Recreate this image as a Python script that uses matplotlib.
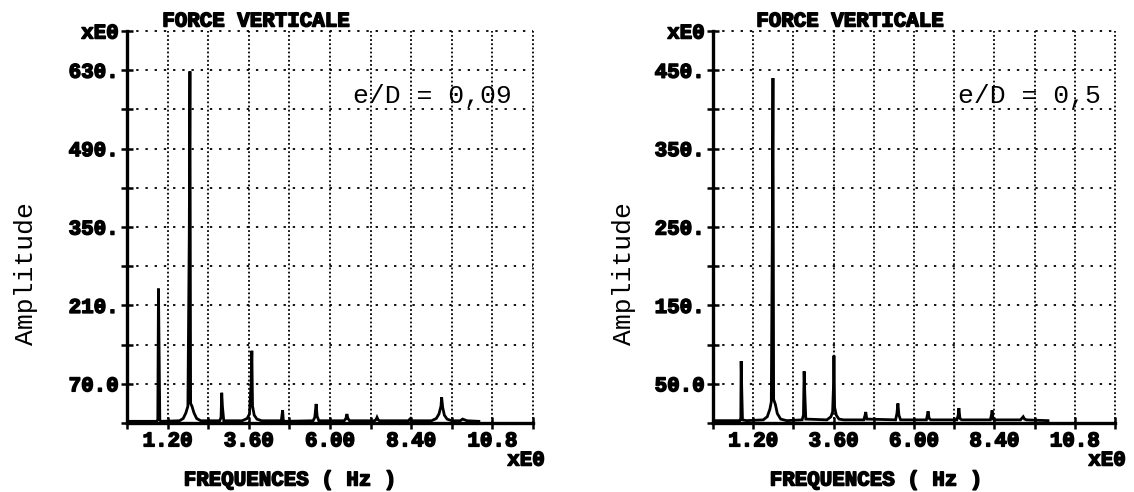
import matplotlib
matplotlib.use("Agg")
import matplotlib.pyplot as plt
import matplotlib.patheffects as pe

# ---------------- data ----------------
freq_ticks = [0.0, 1.2, 2.4, 3.6, 4.8, 6.0, 7.2, 8.4, 9.6, 10.8, 12.0]
freq_labels = ["", "1.20", "", "3.60", "", "6.00", "", "8.40", "", "10.8", ""]

left_yticks = [0, 70, 140, 210, 280, 350, 420, 490, 560, 630, 700]
left_ylabels = ["", "70.0", "", "210.", "", "350.", "", "490.", "", "630.", "xE0"]
right_yticks = [0, 50, 100, 150, 200, 250, 300, 350, 400, 450, 500]
right_ylabels = ["", "50.0", "", "150.", "", "250.", "", "350.", "", "450.", "xE0"]

left_freq = [0.00, 0.88, 0.91, 0.93, 0.95, 0.97, 1.00, 1.55, 1.66, 1.74, 1.80,
             1.84, 1.86, 1.88, 1.92, 1.98, 2.06, 2.18, 2.40, 2.74, 2.78, 2.80,
             2.82, 2.86, 3.40, 3.55, 3.62, 3.67, 3.69, 3.71, 3.76, 3.84, 3.98,
             4.56, 4.60, 4.62, 4.65, 5.50, 5.55, 5.59, 5.62, 5.67, 6.42, 6.47,
             6.50, 6.53, 6.58, 7.32, 7.37, 7.39, 7.42, 7.46, 8.32, 8.36, 8.38,
             8.41, 9.00, 9.14, 9.22, 9.28, 9.30, 9.33, 9.38, 9.46, 9.60, 9.85,
             9.92, 10.05, 10.40]
left_amp = [3, 3, 6, 240, 123, 5, 3, 4, 8, 18, 30,
            333, 628, 35, 30, 18, 8, 4, 4, 4, 10, 54,
            30, 4, 4, 8, 16, 72, 129, 30, 14, 7, 4,
            4, 23, 4, 3, 4, 10, 34, 12, 4, 4, 8,
            16, 8, 4, 4, 7, 10, 6, 4, 4, 7, 8,
            4, 4, 8, 16, 30, 46, 28, 14, 7, 4, 4,
            7, 4, 3]

right_freq = [0.00, 0.80, 0.83, 0.84, 0.86, 0.88, 1.00, 1.50, 1.62, 1.70, 1.74,
              1.77, 1.79, 1.81, 1.86, 1.92, 2.02, 2.20, 2.66, 2.70, 2.72, 2.74,
              2.77, 3.40, 3.52, 3.57, 3.60, 3.61, 3.63, 3.68, 3.76, 3.90, 4.50,
              4.54, 4.56, 4.59, 5.45, 5.49, 5.52, 5.55, 5.60, 6.37, 6.40, 6.42,
              6.45, 6.50, 7.28, 7.32, 7.34, 7.37, 7.42, 8.28, 8.32, 8.33, 8.36,
              8.40, 9.18, 9.24, 9.26, 9.30, 9.36, 10.00]
right_amp = [3, 3, 6, 79, 39, 4, 3, 4, 8, 18, 27,
             240, 440, 30, 24, 12, 5, 3, 4, 10, 66, 38,
             5, 4, 8, 14, 51, 86, 20, 10, 5, 4, 4,
             10, 14, 5, 4, 12, 25, 10, 4, 4, 10, 15,
             6, 4, 4, 10, 19, 6, 4, 4, 12, 16, 5,
             4, 4, 7, 8, 5, 4, 3]

# ---------------- styling ----------------
W, H = 1134, 492
fig = plt.figure(figsize=(W / 100, H / 100), dpi=100)
fig.patch.set_facecolor("white")

HEAVY = [pe.withStroke(linewidth=1.1, foreground="black")]
TICK_FONT = dict(family="Liberation Mono", weight="bold", size=15)
TEXT_FONT = dict(family="Liberation Mono", size=19)


def fx(px):
    return px / W


def fy(py):
    return 1 - py / H


def make_panel(rect, freq, amp, yticks, ylabels, ymax, note, note_x,
               title_x, xlabel_x, ylab_x, xe_x):
    ax = fig.add_axes(rect)
    ax.plot(freq, amp, color="black", lw=2.0, solid_joinstyle="miter")
    ax.set_xlim(0, 12.0)
    ax.set_ylim(0, ymax)
    ax.set_xticks(freq_ticks)
    ax.set_xticklabels(freq_labels, fontdict=TICK_FONT)
    ax.set_yticks(yticks)
    ax.set_yticklabels(ylabels, fontdict=TICK_FONT)
    for lab in ax.get_xticklabels() + ax.get_yticklabels():
        lab.set_path_effects(HEAVY)
    for s in ("top", "right"):
        ax.spines[s].set_visible(False)
    for s in ("left", "bottom"):
        ax.spines[s].set_linewidth(2.4)
    ax.tick_params(axis="both", direction="inout", length=8, width=1.8,
                   color="black")
    ax.tick_params(axis="x", pad=2)
    ax.tick_params(axis="y", pad=2)
    ax.xaxis.grid(True, color="black", lw=1.3, linestyle=(0, (1.0, 1.3)))
    ax.yaxis.grid(True, color="black", lw=1.3, linestyle=(0, (1.3, 3.8)))
    ax.set_axisbelow(False)
    for gl in ax.get_xgridlines() + ax.get_ygridlines():
        gl.set_clip_on(False)
    # texts
    fig.text(fx(title_x), fy(21), "FORCE VERTICALE", ha="center", va="center",
             path_effects=HEAVY, **TICK_FONT)
    fig.text(fx(xlabel_x), fy(480), "FREQUENCES ( Hz )", ha="center",
             va="center", path_effects=HEAVY, **TICK_FONT)
    fig.text(fx(xe_x), fy(460), "xE0", ha="center", va="center",
             path_effects=HEAVY, **TICK_FONT)
    fig.text(fx(ylab_x), fy(274), "Amplitude", rotation=90, ha="center",
             va="center", **TEXT_FONT)
    fig.text(fx(note_x), fy(96), note, ha="center", va="center",
             family="Liberation Mono", size=19)
    return ax


make_panel([fx(127), fy(423), 406 / W, 392 / H], left_freq, left_amp,
           left_yticks, left_ylabels, 700, "e/D = 0,09", 432,
           256, 290, 26, 526)
make_panel([fx(713), fy(423), 402 / W, 392 / H], right_freq, right_amp,
           right_yticks, right_ylabels, 500, "e/D = 0,5", 1029,
           850, 876, 624, 1107)

fig.savefig("out.png", dpi=100, facecolor="white")
